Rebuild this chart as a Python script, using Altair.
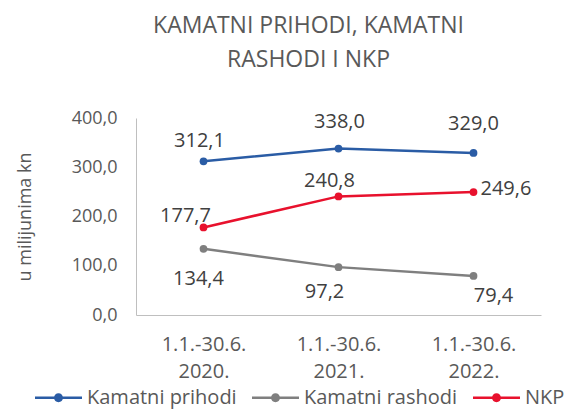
import altair as alt
import pandas as pd

periods = ["1.1.-30.6. 2020.", "1.1.-30.6. 2021.", "1.1.-30.6. 2022."]
series = ["Kamatni prihodi", "Kamatni rashodi", "NKP"]
prihodi = [312.1, 338.0, 329.0]
rashodi = [134.4, 97.2, 79.4]
nkp = [177.7, 240.8, 249.6]
colors = ["#2A5CA5", "#7F7F7F", "#E8112D"]
y_ticks = [0, 100, 200, 300, 400]
title_lines = ["KAMATNI PRIHODI, KAMATNI", "RASHODI I NKP"]
y_title = "u milijunima kn"

rows = []
for name, vals in zip(series, [prihodi, rashodi, nkp]):
    for i, (p, v) in enumerate(zip(periods, vals)):
        rows.append({"period": p, "series": name, "value": v, "idx": i})
df = pd.DataFrame(rows)

FONT = "Open Sans"
TXT = "#404040"
AX = "#595959"

x_enc = alt.X("period:N", sort=periods,
              scale=alt.Scale(type="point", padding=0.5),
              axis=alt.Axis(title=None, labelExpr="split(datum.label, ' ')",
                            labelFont=FONT, labelFontSize=20, labelColor=AX,
                            labelLineHeight=27, labelPadding=19, ticks=False,
                            domainColor="#BFBFBF", grid=False, labelAngle=0))
y_enc = alt.Y("value:Q", scale=alt.Scale(domain=[0, 400], nice=False),
              axis=alt.Axis(values=y_ticks, title=y_title,
                            labelExpr="replace(format(datum.value, '.1f'), '.', ',')",
                            labelFont=FONT, labelFontSize=18, labelColor=AX,
                            labelPadding=19, ticks=False, grid=False,
                            domainColor="#BFBFBF",
                            titleFont=FONT, titleFontSize=18, titleColor=AX,
                            titleFontWeight="normal", titleX=-111, titleY=98.5,
                            titleAngle=270, titleAlign="center", titleBaseline="middle"))

legend_path = ("M-1,-0.05L1,-0.05L1,0.05L-1,0.05Z "
               "M-0.19,0A0.19,0.19 0 1,1 0.19,0A0.19,0.19 0 1,1 -0.19,0Z")

color_legend = alt.Color("series:N", sort=series,
                         scale=alt.Scale(domain=series, range=colors),
                         legend=alt.Legend(title=None, orient="none", direction="horizontal",
                                           legendX=-101, legendY=256,
                                           symbolType=legend_path, symbolSize=2209,
                                           symbolStrokeWidth=0, labelFont=FONT,
                                           labelFontSize=20, labelColor=AX,
                                           labelOffset=5, columnPadding=15, padding=0))
color_plain = alt.Color("series:N", sort=series,
                        scale=alt.Scale(domain=series, range=colors))

base = alt.Chart(df)

legend_layer = base.transform_filter("false").mark_point(filled=True, opacity=1).encode(
    x=x_enc, y=y_enc, color=color_legend)

lines = base.mark_line(strokeWidth=2.5).encode(x=x_enc, y=y_enc, color=color_plain,
                                                detail="series:N")
points = base.mark_point(filled=True, opacity=1, size=60).encode(
    x=x_enc, y=y_enc, color=color_plain)

placements = {
    ("Kamatni prihodi", 0): (-4, -20, "center"),
    ("Kamatni prihodi", 1): (1, -27, "center"),
    ("Kamatni prihodi", 2): (0, -29, "center"),
    ("NKP", 0): (-18, -11, "center"),
    ("NKP", 1): (-9, -15, "center"),
    ("NKP", 2): (7, -3, "left"),
    ("Kamatni rashodi", 0): (-5, 30, "center"),
    ("Kamatni rashodi", 1): (-14, 25, "center"),
    ("Kamatni rashodi", 2): (20, 20, "center"),
}

texts = []
for (s, i), (dx, dy, al) in placements.items():
    t = base.transform_filter(
        (alt.datum.series == s) & (alt.datum.idx == i)
    ).transform_calculate(
        lab="replace(format(datum.value, '.1f'), '.', ',')"
    ).mark_text(font=FONT, fontSize=20, color=TXT, dx=dx, dy=dy, align=al,
                baseline="middle").encode(x=x_enc, y=y_enc, text="lab:N")
    texts.append(t)

chart = alt.layer(legend_layer, lines, points, *texts).properties(
    width=405, height=197,
    autosize=alt.AutoSizeParams(type="none"),
    padding={"left": 128, "top": 110, "right": 26, "bottom": 95},
    title=alt.TitleParams(text=title_lines, font=FONT, fontSize=23, color=AX,
                          fontWeight="normal", lineHeight=34, anchor="middle",
                          dx=-30, offset=37),
).configure_view(strokeWidth=0)

chart.save("out.html", embed_options={"renderer": "svg", "actions": False})
